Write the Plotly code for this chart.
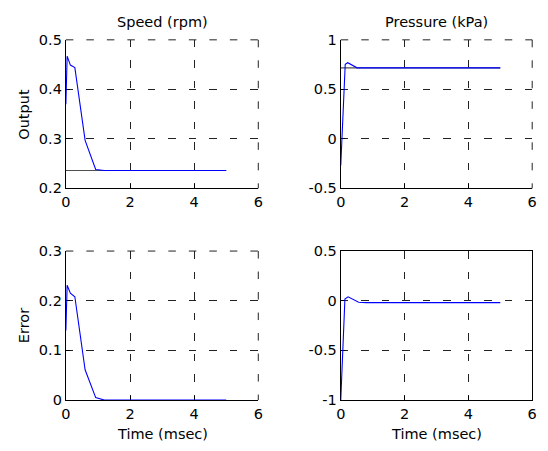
import plotly.graph_objects as go

# ---- data ----
t_speed = [0, 0.04, 0.14, 0.28, 0.6, 0.93, 1.2, 5.0]
speed_out = [0.37, 0.467, 0.449, 0.444, 0.297, 0.238, 0.236, 0.236]
speed_err = [0.14, 0.231, 0.215, 0.208, 0.061, 0.005, 0.0, 0.0]
speed_ref_t = [0, 5.0]
speed_ref = [0.236, 0.236]

t_press = [0, 0.14, 0.22, 0.51, 0.6, 5.0]
press_out = [-0.27, 0.753, 0.769, 0.717, 0.717, 0.717]
t_press_err = [0, 0.13, 0.23, 0.56, 0.8, 5.0]
press_err = [-1.0, 0.016, 0.039, -0.016, -0.019, -0.019]
press_ref_t = [0, 5.0]
press_ref = [0.717, 0.717]

x_ticks = [0, 2, 4, 6]
x_ticktext = ["0", "2", "4", "6"]
y_ticks = {
    1: ([0.2, 0.3, 0.4, 0.5], ["0.2", "0.3", "0.4", "0.5"]),
    2: ([-0.5, 0, 0.5, 1], ["-0.5", "0", "0.5", "1"]),
    3: ([0, 0.1, 0.2, 0.3], ["0", "0.1", "0.2", "0.3"]),
    4: ([-1, -0.5, 0, 0.5], ["-1", "-0.5", "0", "0.5"]),
}
y_ranges = {1: [0.2, 0.5], 2: [-0.5, 1], 3: [0, 0.3], 4: [-1, 0.5]}
x_range = [0, 6]

titles = ["Speed (rpm)", "Pressure (kPa)"]
ylabels = ["Output", "Error"]
xlabel = "Time (msec)"

W, H = 548, 451
FONT = "DejaVu Sans, Arial, sans-serif"
FS = 14.5
DASH = "7.5px,13px"
GRID = "#222222"

# pixel boxes (left, right, top, bottom)
boxes = {
    1: (62, 258, 33, 187),
    2: (342, 537, 33, 187),
    3: (62, 258, 252, 406.5),
    4: (342, 537, 252, 406.5),
}

fig = go.Figure()

def add_line(n, x, y, color):
    fig.add_trace(go.Scatter(
        x=x, y=y, mode="lines", line=dict(color=color, width=1.1),
        xaxis="x" if n == 1 else f"x{n}", yaxis="y" if n == 1 else f"y{n}",
        showlegend=False, hoverinfo="skip"))

add_line(1, speed_ref_t, speed_ref, "#505050")
add_line(1, t_speed, speed_out, "#0000ff")
add_line(2, press_ref_t, press_ref, "#505050")
add_line(2, t_press, press_out, "#0000ff")
add_line(3, t_speed, speed_err, "#0000ff")
add_line(4, t_press_err, press_err, "#0000ff")

layout = dict(
    width=W, height=H, margin=dict(l=0, r=0, t=0, b=0),
    paper_bgcolor="white", plot_bgcolor="white",
    font=dict(family=FONT, size=FS, color="black"),
    showlegend=False,
)

shapes = []
for n, (l, r, t, b) in boxes.items():
    xd = [l / W, r / W]
    yd = [(H - b) / H, (H - t) / H]
    sfx = "" if n == 1 else str(n)
    box = (n == 4)
    common = dict(
        showgrid=True, gridcolor=GRID, gridwidth=1, griddash=DASH,
        showline=True, linecolor="black", linewidth=1.2, mirror=box,
        ticks="inside", ticklen=4, tickcolor="black",
        zeroline=False, layer="below traces", fixedrange=True,
        tickfont=dict(family=FONT, size=FS),
    )
    layout[f"xaxis{sfx}"] = dict(domain=xd, range=x_range, anchor=f"y{sfx}",
                                 tickvals=x_ticks, ticktext=x_ticktext, **common)
    layout[f"yaxis{sfx}"] = dict(domain=yd, range=y_ranges[n], anchor=f"x{sfx}",
                                 tickvals=y_ticks[n][0], ticktext=y_ticks[n][1], **common)
    if not box:
        xr = "x" if n == 1 else f"x{n}"
        yr = "y" if n == 1 else f"y{n}"
        # dashed grid lines at the top and right edges (plotly omits edge gridlines)
        shapes.append(dict(type="line", xref=f"{xr} domain", yref=f"{yr} domain",
                           x0=0, x1=1, y0=1, y1=1, layer="below",
                           line=dict(color=GRID, width=1, dash=DASH)))
        shapes.append(dict(type="line", xref=f"{xr} domain", yref=f"{yr} domain",
                           x0=1, x1=1, y0=1, y1=0, layer="below",
                           line=dict(color=GRID, width=1, dash=DASH)))

fig.update_layout(**layout)

ann = []
for i, title in enumerate(titles):
    l, r, t, b = boxes[i + 1]
    ann.append(dict(text=title, x=(l + r) / 2 / W, y=(H - 15) / H, xref="paper", yref="paper",
                    xanchor="center", yanchor="middle", showarrow=False, font=dict(size=FS)))
for i, lab in enumerate(ylabels):
    l, r, t, b = boxes[1 + 2 * i]
    ann.append(dict(text=lab, x=19 / W, y=(H - (t + b) / 2) / H, xref="paper", yref="paper",
                    xanchor="center", yanchor="middle", textangle=-90, showarrow=False,
                    font=dict(size=FS)))
for n in (3, 4):
    l, r, t, b = boxes[n]
    ann.append(dict(text=xlabel, x=(l + r) / 2 / W, y=(H - 442) / H, xref="paper", yref="paper",
                    xanchor="center", yanchor="middle", showarrow=False, font=dict(size=FS)))
fig.update_layout(annotations=ann, shapes=shapes)

fig.write_html("out.html")
